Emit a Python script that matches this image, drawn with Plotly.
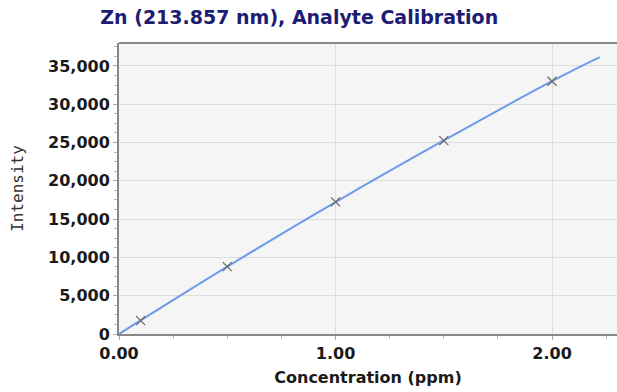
import plotly.graph_objects as go

# Calibration standards (concentration ppm, intensity)
std_conc = [0.1, 0.5, 1.0, 1.5, 2.0]
std_int = [1750, 8800, 17250, 25250, 33000]

# Calibration curve
curve_conc = [0.0, 0.5, 1.0, 1.5, 2.0, 2.22]
curve_int = [0, 8790, 17220, 25270, 33020, 36150]

x_ticks = [0, 1, 2]
x_tick_text = ["0.00", "1.00", "2.00"]
y_ticks = [0, 5000, 10000, 15000, 20000, 25000, 30000, 35000]
y_tick_text = ["0", "5,000", "10,000", "15,000", "20,000", "25,000", "30,000", "35,000"]

fig = go.Figure()
fig.add_trace(go.Scatter(
    x=curve_conc, y=curve_int, mode="lines",
    line=dict(color="#6d9bea", width=2, shape="spline"),
    hoverinfo="skip", showlegend=False,
))
fig.add_trace(go.Scatter(
    x=std_conc, y=std_int, mode="markers",
    marker=dict(symbol="x-thin", size=9, line=dict(color="#6a6a6a", width=1.3)),
    showlegend=False,
))

tickfont = dict(family="DejaVu Sans", size=16, color="#1a1a1a", weight="bold")

fig.update_layout(
    width=617, height=392,
    margin=dict(l=119, r=0, t=43, b=58),
    paper_bgcolor="white",
    plot_bgcolor="#f5f5f5",
    title=dict(
        text="<b>Zn (213.857 nm), Analyte Calibration</b>",
        font=dict(family="DejaVu Sans", size=19, color="#1c1c72"),
        x=0.485, xanchor="center", y=0.955, yanchor="middle",
    ),
    xaxis=dict(
        range=[0, 2.3], tickvals=x_ticks, ticktext=x_tick_text,
        showgrid=True, gridcolor="#dddddd", gridwidth=1,
        showline=True, linecolor="#888888", linewidth=2, mirror=False,
        ticks="outside", ticklen=4, tickcolor="#aaaaaa",
        minor=dict(dtick=0.25, ticks="outside", ticklen=3, tickcolor="#bbbbbb", showgrid=False),
        tickfont=tickfont, zeroline=False,
        title=dict(text="<b>Concentration (ppm)</b>",
                   font=dict(family="DejaVu Sans", size=16, color="#1a1a1a"), standoff=10),
    ),
    yaxis=dict(
        range=[0, 38000], tickvals=y_ticks, ticktext=y_tick_text,
        showgrid=True, gridcolor="#dddddd", gridwidth=1,
        showline=True, linecolor="#888888", linewidth=2,
        ticks="outside", ticklen=4, tickcolor="#aaaaaa",
        minor=dict(dtick=1250, ticks="outside", ticklen=3, tickcolor="#bbbbbb", showgrid=False),
        tickfont=tickfont, zeroline=False,
        title=dict(text="Intensity",
                   font=dict(family="DejaVu Sans Mono", size=16, color="#333333"), standoff=20),
    ),
    shapes=[dict(type="line", xref="paper", yref="paper", x0=0, x1=1, y0=1, y1=1,
                 line=dict(color="#888888", width=2))],
)

fig.write_html("out.html")
